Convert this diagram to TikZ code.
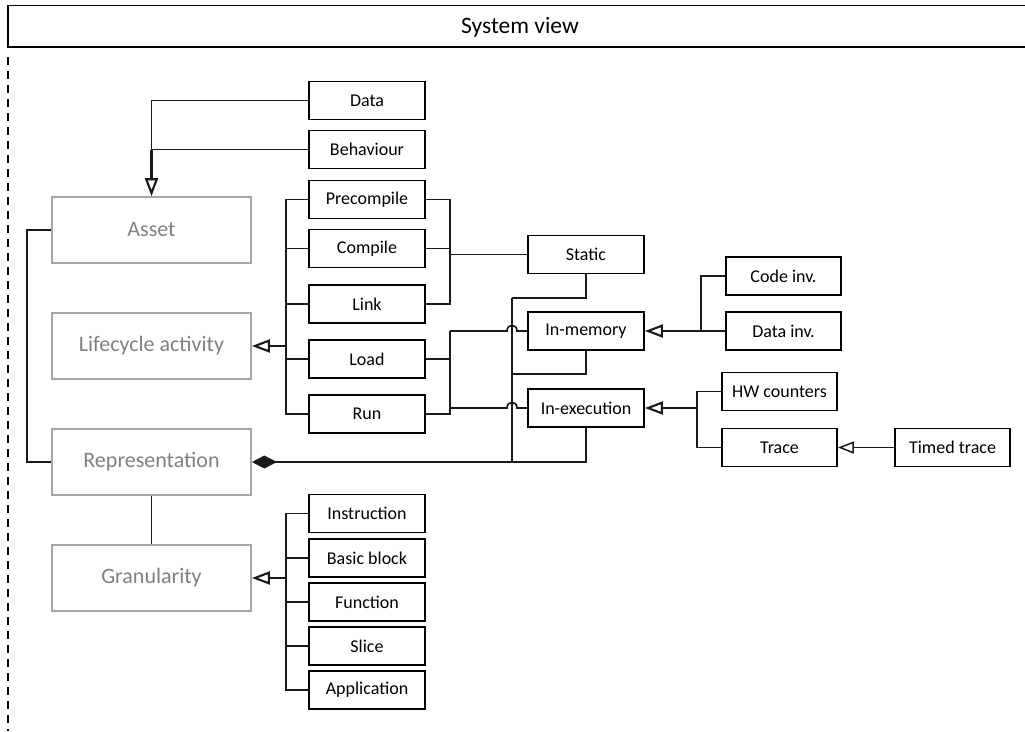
\documentclass[tikz,border=0pt]{standalone}
\usepackage{fontspec}
\setmainfont{Carlito}
\usetikzlibrary{arrows.meta,calc}
\definecolor{gtext}{HTML}{808080}
\definecolor{gline}{HTML}{A6A6A6}
\definecolor{cline}{HTML}{1A1A1A}
\tikzset{
  box/.style={draw=black,line width=1.8pt,minimum width=116pt,minimum height=38pt,inner sep=0pt,font=\fontsize{18}{20}\selectfont},
  gbox/.style={draw=gline,line width=1.7pt,text=gtext,minimum width=199pt,minimum height=66pt,inner sep=0pt,font=\fontsize{22}{24}\selectfont},
  conn/.style={draw=cline,line width=1.7pt},
  genthick/.style={draw=cline,line width=2.1pt,-{Triangle[open,length=18pt,width=13pt]}},
  genthin/.style={draw=cline,line width=1.5pt,-{Triangle[open,length=16pt,width=12pt]}},
  comp/.style={draw=cline,line width=2pt,-{Diamond[length=25pt,width=13pt]}},
}
\begin{document}
\begin{tikzpicture}[x=1pt,y=-1pt]
\useasboundingbox (0,0) rectangle (1025,731);
% frame
\draw[line width=1.3pt] (1025,5.5) -- (8,5.5) -- (8,47) -- (1025,47);
\draw[line width=1.4pt,dash pattern=on 8pt off 6pt] (8,57) -- (8,731);
\node[font=\fontsize{23.5}{26}\selectfont] (title) at (520,27) {System view};
% grey boxes
\node[gbox] (asset) at (151.5,230) {Asset};
\node[gbox] (life) at (151.5,346) {Lifecycle activity};
\node[gbox] (repr) at (151.5,462) {Representation};
\node[gbox] (gran) at (151.5,578) {Granularity};
% black boxes column
\node[box] (data) at (367,100.5) {Data};
\node[box] (behav) at (367,149.5) {Behaviour};
\node[box] (precomp) at (367,199.5) {Precompile};
\node[box] (compile) at (367,248.5) {Compile};
\node[box] (link) at (367,304) {Link};
\node[box] (load) at (367,359) {Load};
\node[box] (run) at (367,414) {Run};
\node[box] (instr) at (367,513.5) {Instruction};
\node[box] (bblock) at (367,558) {Basic block};
\node[box] (func) at (367,602) {Function};
\node[box] (slice) at (367,646) {Slice};
\node[box] (appl) at (367,690) {Application};
% middle
\node[box] (static) at (586,254.5) {Static};
\node[box] (inmem) at (586,331) {In-memory};
\node[box] (inexec) at (586,408) {In-execution};
% right
\node[box,minimum width=115pt] (codeinv) at (783.5,276) {Code inv.};
\node[box,minimum width=115pt] (datainv) at (783.5,331) {Data inv.};
\node[box,minimum width=115pt] (hw) at (779.5,391.5) {HW counters};
\node[box,minimum width=115pt] (trace) at (779.5,447.5) {Trace};
\node[box,minimum width=115pt] (timed) at (952.5,447.5) {Timed trace};
% Data / Behaviour -> Asset
\coordinate (bj) at (behav.west -| asset.north);
\draw[conn] (data.west) -| (bj);
\draw[conn] (behav.west) -- (bj);
\draw[genthick] (bj) -- (asset.north);
% Asset -- Representation
\coordinate (al) at ($(asset.west)+(-24,0)$);
\draw[conn] (asset.west) -- (al) |- (repr.west);
% Representation -- Granularity
\draw[conn] (repr.south) -- (gran.north);
% Lifecycle generalization
\coordinate (lbus) at ($(life.east)+(34,0)$);
\draw[conn] (precomp.west) -| (lbus) |- (run.west);
\draw[conn] (compile.west) -- (compile.west -| lbus);
\draw[conn] (link.west) -- (link.west -| lbus);
\draw[conn] (load.west) -- (load.west -| lbus);
\draw[genthick] (lbus) -- (life.east);
% Precompile/Compile/Link -> Static
\coordinate (sj) at ([xshift=24pt]compile.east |- static.west);
\draw[conn] (precomp.east) -| (sj) |- (link.east);
\draw[conn] (compile.east) -- (compile.east -| sj);
\draw[conn] (sj) -- (static.west);
% Load/Run -> In-memory / In-execution
\coordinate (mj) at (sj |- inmem.west);
\coordinate (rj) at (sj |- run.east);
\draw[conn] (load.east) -- (load.east -| sj);
\draw[conn] (run.east) -- (rj) -- (mj);
\draw[conn] (mj) -- (507,331) .. controls (507,323.5) and (517,323.5) .. (517,331) -- (inmem.west);
\draw[conn] (sj |- inexec.west) -- (507,408) .. controls (507,400.5) and (517,400.5) .. (517,408) -- (inexec.west);
% composition to Representation
\coordinate (ctop) at (512,298);
\coordinate (cbot) at (ctop |- repr.east);
\draw[conn] (static.south) |- (ctop);
\draw[conn] (inmem.south) |- (512,374);
\draw[conn] (ctop) -- (cbot);
\draw[comp] (inexec.south) |- (repr.east);
% In-memory generalization
\coordinate (mbus) at (701,331);
\draw[conn] (codeinv.west) -| (mbus);
\draw[conn] (datainv.west) -- (mbus);
\draw[genthick] (mbus) -- (inmem.east);
% In-execution generalization
\coordinate (ebus) at (697,408);
\draw[conn] (hw.west) -| (ebus) |- (trace.west);
\draw[genthick] (ebus) -- (inexec.east);
% Timed trace -> Trace
\draw[genthin] (timed.west) -- (trace.east);
% Granularity generalization
\coordinate (gbus) at ($(gran.east)+(34,0)$);
\draw[conn] (instr.west) -| (gbus) |- (appl.west);
\draw[conn] (bblock.west) -- (bblock.west -| gbus);
\draw[conn] (func.west) -- (func.west -| gbus);
\draw[conn] (slice.west) -- (slice.west -| gbus);
\draw[genthick] (gbus) -- (gran.east);
\end{tikzpicture}
\end{document}
